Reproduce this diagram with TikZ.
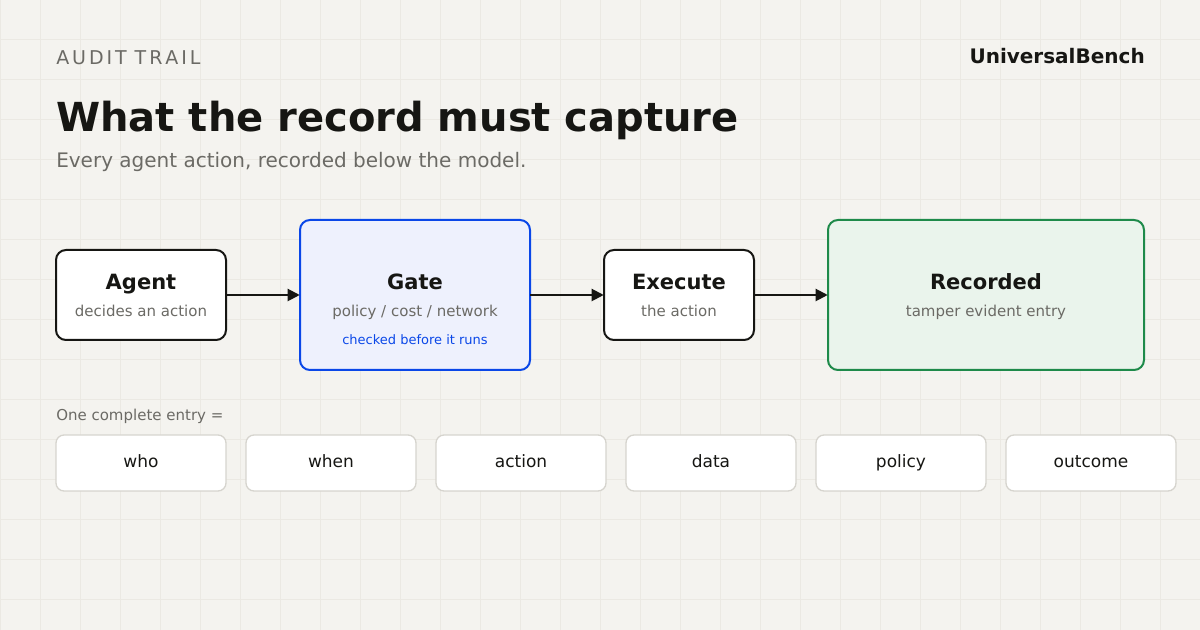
\documentclass[tikz,border=0pt]{standalone}
\usepackage{fontspec}
\setmainfont{DejaVu Sans}
\usetikzlibrary{arrows.meta}
\definecolor{bg}{HTML}{F4F3EF}
\definecolor{gridc}{HTML}{EBE9E3}
\definecolor{ink}{HTML}{161613}
\definecolor{mute}{HTML}{6B6A65}
\definecolor{blueb}{HTML}{0A47E8}
\definecolor{bluef}{HTML}{EEF1FD}
\definecolor{greenb}{HTML}{1E8A4A}
\definecolor{greenf}{HTML}{EAF4EC}
\definecolor{chipb}{HTML}{D6D4CE}
\newcommand{\px}[1]{\pgfmathsetmacro\pxs{#1*0.75}\fontsize{\pxs pt}{\pxs pt}\selectfont}
\tikzset{
 flow/.style={draw=ink,line width=1.5pt,fill=white,rounded corners=7.5pt},
 chip/.style={draw=chipb,line width=1pt,fill=white,rounded corners=6pt,minimum width=127.5pt,minimum height=42pt,inner sep=0pt,text=ink,font=\px{17},text height=9pt,text depth=2.6pt},
 conn/.style={draw=ink,line width=1.5pt,-{Triangle[length=9pt,width=9pt]}},
 ttl/.style={font=\px{21}\bfseries,text=ink,anchor=base},
 sub/.style={font=\px{15},text=mute,anchor=base},
}
\begin{document}
\begin{tikzpicture}[x=0.75pt,y=-0.75pt]
\fill[bg] (0,0) rectangle (1200,630);
\useasboundingbox (0,0) rectangle (1200,630);
\foreach \i in {0,40,...,1200} \draw[gridc,line width=0.75pt] (\i,0)--(\i,630);
\foreach \j in {0,40,...,600} \draw[gridc,line width=0.75pt] (0,\j)--(1200,\j);
\node[anchor=base west,inner sep=0,text=mute,font=\px{19}] (kick) at (56,65) {A\kern2.2pt U\kern2.2pt D\kern2.2pt I\kern2.2pt T\kern6pt T\kern2.2pt R\kern2.2pt A\kern2.2pt I\kern2.2pt L};
\node[anchor=base east,inner sep=0,text=ink,font=\px{20}\bfseries] (brand) at (1145,64) {UniversalBench};
\node[anchor=base west,inner sep=0,text=ink,font=\px{40}\bfseries] (title) at (56,132) {What the record must capture};
\node[anchor=base west,inner sep=0,text=mute,font=\px{20}] (subt) at (56,168) {Every agent action, recorded below the model.};
% boxes
\path[flow] (56,250) rectangle (226,340);
\node (agent) at (141,295) [minimum width=127.5pt,minimum height=67.5pt] {};
\node[ttl] at (141,290) {Agent};
\node[sub] at (141,317) {decides an action};
\path[flow,draw=blueb,fill=bluef] (300,220) rectangle (530,370);
\node (gate) at (415,295) [minimum width=172.5pt,minimum height=112.5pt] {};
\node[ttl] at (415,290) {Gate};
\node[sub] at (415,317) {policy / cost / network};
\node[anchor=base,font=\px{13},text=blueb] at (415,345) {checked before it runs};
\path[flow] (604,250) rectangle (754,340);
\node (exec) at (679,295) [minimum width=112.5pt,minimum height=67.5pt] {};
\node[ttl] at (679,290) {Execute};
\node[sub] at (679,317) {the action};
\path[flow,draw=greenb,fill=greenf] (828,220) rectangle (1144,370);
\node (rec) at (986,295) [minimum width=237pt,minimum height=112.5pt] {};
\node[ttl] at (986,290) {Recorded};
\node[sub] at (986,317) {tamper evident entry};
\draw[conn] (agent.east) -- (gate.west);
\draw[conn] (gate.east) -- (exec.west);
\draw[conn] (exec.east) -- (rec.west);
\node[anchor=base west,inner sep=0,font=\px{15},text=mute] (entry) at (56,421) {One complete entry =};
\foreach \n/\x/\t in {c1/141/who,c2/331/when,c3/521/action,c4/711/data,c5/901/policy,c6/1091/outcome}
  \node[chip] (\n) at (\x,463) {\t};
\end{tikzpicture}
\end{document}
